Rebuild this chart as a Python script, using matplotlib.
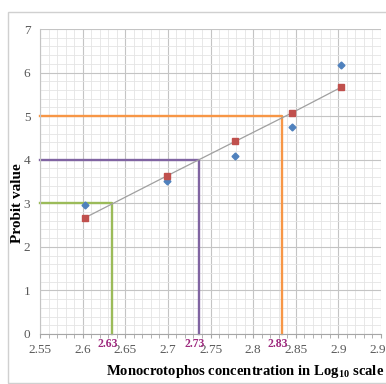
import matplotlib
matplotlib.use("Agg")
import matplotlib.pyplot as plt
from matplotlib.patches import Rectangle
from matplotlib.ticker import MultipleLocator

# log10 concentration vs probit
log_conc = [2.603, 2.699, 2.779, 2.846, 2.903]
observed = [2.97, 3.52, 4.09, 4.76, 6.18]
expected = [2.67, 3.63, 4.42, 5.08, 5.66]

# LC values (probit 3, 4, 5)
lc_x = [2.635, 2.737, 2.834]
lc_y = [3, 4, 5]
lc_lab = ['2.63', '2.73', '2.83']
lc_col = ['#9BBB59', '#8064A2', '#F79646']

xticks = [2.55, 2.6, 2.65, 2.7, 2.75, 2.8, 2.85, 2.9, 2.95]
xtick_lab = ['2.55', '2.6', '2.65', '2.7', '2.75', '2.8', '2.85', '2.9', '2.95']

plt.rcParams['font.family'] = ['Liberation Serif', 'DejaVu Serif']
plt.rcParams['mathtext.fontset'] = 'custom'
plt.rcParams['mathtext.rm'] = 'Liberation Serif'
plt.rcParams['mathtext.bf'] = 'Liberation Serif:bold'

fig = plt.figure(figsize=(3.86, 3.84), dpi=100)
fig.patches.append(Rectangle((8/386, 1/384), 1.2, 371/384, transform=fig.transFigure,
                             fill=False, edgecolor='#D0D0D0', linewidth=1, clip_on=False))
ax = fig.add_axes([40/386, 1-334/384, 341/386, 305/384])

ax.set_xlim(2.55, 2.95)
ax.set_ylim(0, 7)
ax.xaxis.set_major_locator(MultipleLocator(0.05))
ax.xaxis.set_minor_locator(MultipleLocator(0.01))
ax.yaxis.set_major_locator(MultipleLocator(1))
ax.yaxis.set_minor_locator(MultipleLocator(0.2))
ax.grid(which='major', color='#C4C4C4', linewidth=0.8)
ax.grid(which='minor', color='#E4E4E4', linewidth=0.6)
ax.set_axisbelow(True)

for s in ['top', 'right']:
    ax.spines[s].set_visible(False)
ax.spines['left'].set_color('#C4C4C4')
ax.spines['bottom'].set_color('#A6A6A6')

ax.set_xticks(xticks)
ax.set_xticklabels(xtick_lab)
ax.tick_params(axis='x', which='both', direction='out', colors='#A6A6A6', labelcolor='#595959',
               labelsize=9.5, length=3, pad=4)
ax.tick_params(axis='y', which='both', length=0, labelcolor='#595959', labelsize=9.5, pad=7)

# reference drop lines
for x, y, lab, c in zip(lc_x, lc_y, lc_lab, lc_col):
    ax.plot([2.55, x, x], [y, y, 0], color=c, linewidth=1.7, zorder=2, clip_on=False)
    ax.text(x - 0.005, -0.22, lab, color='#9E2A7E', fontsize=8.5, fontweight='bold',
            ha='center', va='center')

ax.plot(log_conc, expected, color='#A0A0A0', linewidth=0.9, zorder=3)
ax.plot(log_conc, observed, 'D', color='#4F81BD', markersize=3.5, zorder=4)
ax.plot(log_conc, expected, 's', color='#C0504D', markersize=5, zorder=4)

ax.set_xlabel('Monocrotophos concentration in Log$_{\\mathbf{10}}$ scale', fontsize=10.5,
              fontweight='bold', labelpad=5, x=0.6)
ax.set_ylabel('Probit value', fontsize=11, fontweight='bold')
ax.yaxis.set_label_coords(-0.047, 0.43)

fig.savefig('out.png', dpi=100)
